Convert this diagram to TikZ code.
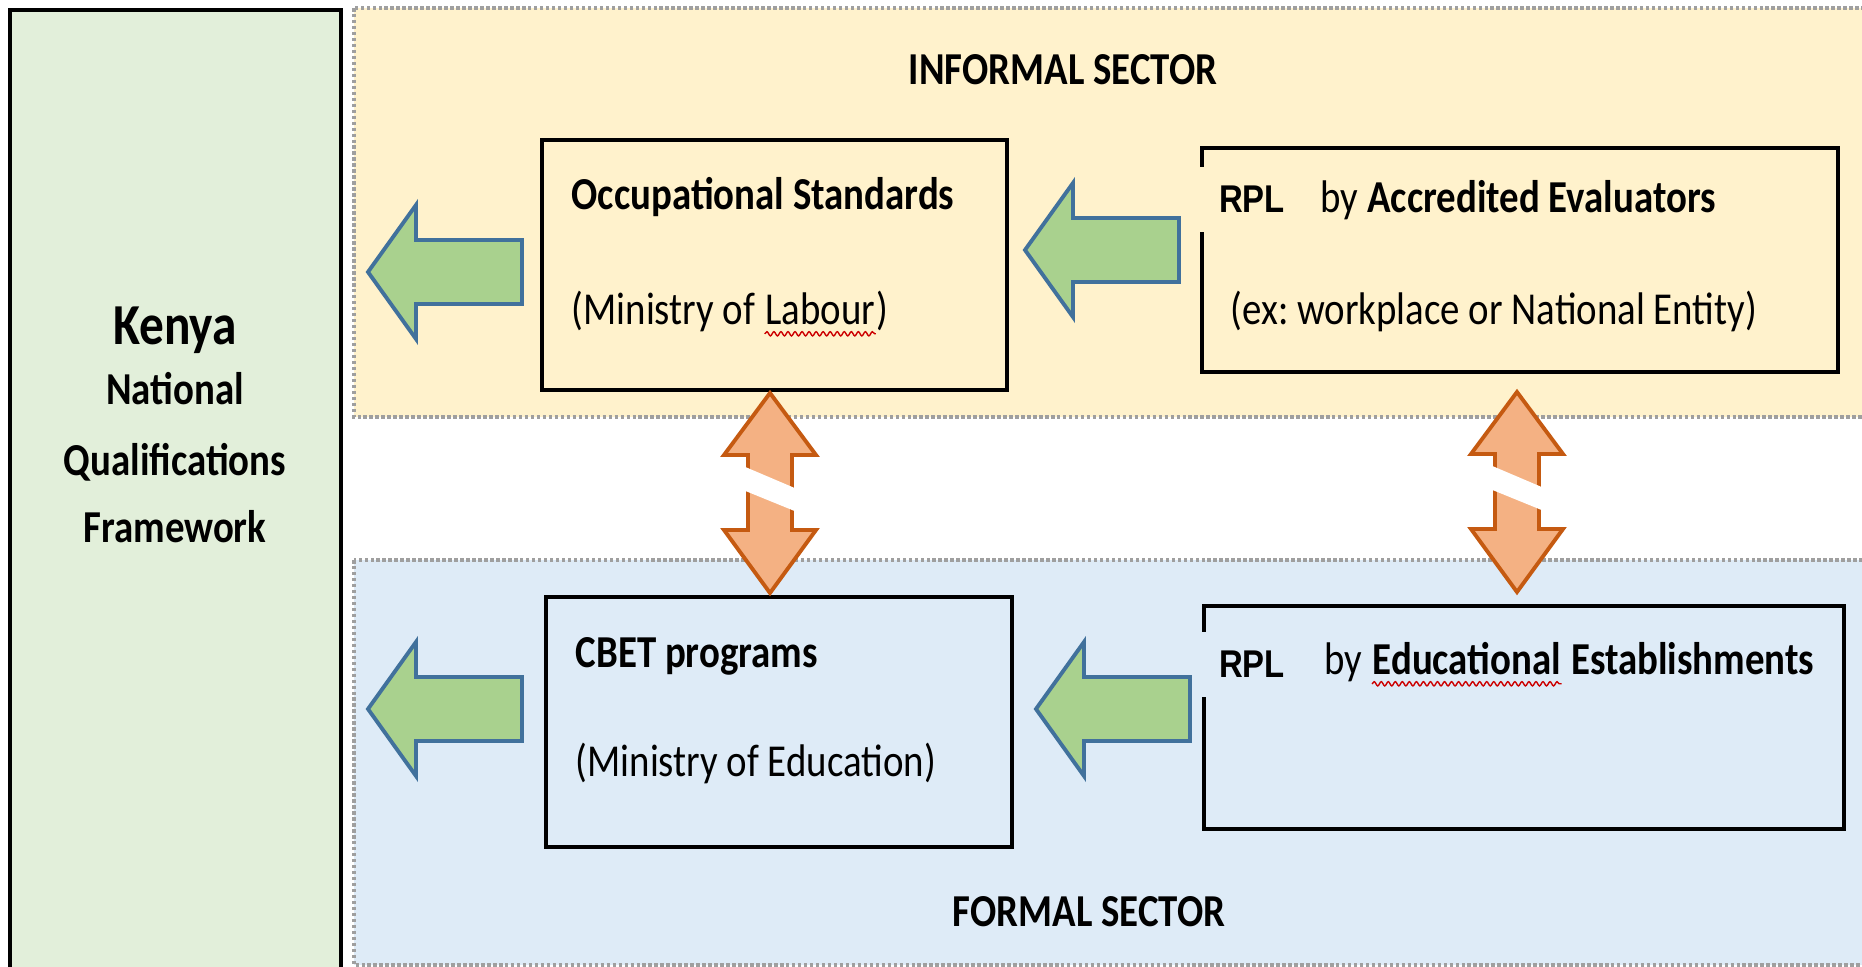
\documentclass[tikz,border=0pt]{standalone}
\usepackage{fontspec}
\setmainfont{Carlito}[FakeStretch=0.85]
\newfontfamily\rplfont{Liberation Sans}[FakeStretch=0.85]
\usetikzlibrary{decorations.pathmorphing}
\frenchspacing
\definecolor{nqfgreen}{HTML}{E2EFDA}
\definecolor{informal}{HTML}{FFF2CC}
\definecolor{formal}{HTML}{DEEBF7}
\definecolor{arrowgreen}{HTML}{A9D18E}
\definecolor{arrowblue}{HTML}{41719C}
\definecolor{arroworange}{HTML}{F4B183}
\definecolor{orangeline}{HTML}{C55A11}
\tikzstyle{box}=[draw,line width=1pt,inner sep=0pt]
\tikzstyle{txt}=[inner sep=0pt,anchor=base west,font=\fontsize{13pt}{15pt}\selectfont]
\tikzstyle{bold}=[inner sep=0pt,anchor=base west,font=\fontsize{13pt}{15pt}\selectfont\bfseries]
\tikzstyle{rpl}=[inner sep=5.5pt,anchor=base west,font=\rplfont\bfseries\fontsize{11pt}{13pt}\selectfont]
\tikzstyle{sector}=[draw=gray!75,line width=1pt,dash pattern=on 1pt off 0.7pt]
\tikzstyle{greenarrow}=[fill=arrowgreen,draw=arrowblue,line width=1.1pt]
\tikzstyle{orangearrow}=[fill=arroworange,draw=orangeline,line width=1.1pt]
\tikzstyle{squiggle}=[red!80!black,line width=0.4pt,decorate,decoration={snake,amplitude=0.6pt,segment length=2pt}]

\begin{document}
\begin{tikzpicture}[x=0.01cm,y=-0.01cm]
\useasboundingbox (0, 0) rectangle (1862, 967);
\clip (0, 0) rectangle (1862, 967);
\fill[white] (0, 0) rectangle (1862, 967);
% sectors
\draw[sector,fill=informal] (354, 8) rectangle (1890, 417);
\draw[sector,fill=formal] (354, 560) rectangle (1890, 965);
\node[bold,anchor=base] at (1063, 85) {INFORMAL SECTOR};
\node[bold,anchor=base] at (1089, 927) {FORMAL SECTOR};
% framework
\node[box,fill=nqfgreen,anchor=north west,minimum width=3.31cm,minimum height=10cm] (nqf) at (8, 8) {};
\node[bold,anchor=base,font=\fontsize{16.5pt}{18pt}\selectfont\bfseries] at (175, 345) {Kenya};
\node[bold,anchor=base] at (175, 405) {National};
\node[bold,anchor=base] at (175, 476) {Qualifications};
\node[bold,anchor=base] at (175, 543) {Framework};
% boxes
\node[box,minimum width=4.65cm,minimum height=2.5cm] (os) at (774.5, 265) {};
\node[box,minimum width=6.36cm,minimum height=2.24cm] (ae) at (1520, 260) {};
\node[box,minimum width=4.66cm,minimum height=2.5cm] (cbet) at (779, 722) {};
\node[box,minimum width=6.40cm,minimum height=2.23cm] (ee) at (1524, 717.5) {};
% informal texts
\node[bold] (osname) at (571, 210) {Occupational Standards};
\node[txt] (osmin) at (571, 325) {(Ministry of};
\node[txt] (oslab) at ([xshift=2.5pt]osmin.base east) {Labour};
\node[txt] at (oslab.base east) {)};
\draw[squiggle] ([yshift=-2.5pt]oslab.base west) -- ([yshift=-2.5pt]oslab.base east);
\node[rpl,fill=informal] (aerpl) at (1199, 213) {RPL};
\node[txt] (aeby) at (1320, 213) {by \textbf{Accredited Evaluators}};
\node[txt] (aeex) at (1230, 325) {(ex: workplace or National Entity)};
% formal texts
\node[bold] (cbetname) at (575, 668) {CBET programs};
\node[txt] (cbetmin) at (575, 777) {(Ministry of Education)};
\node[rpl,fill=formal] (eerpl) at (1199, 678) {RPL};
\node[txt] (eeby) at (1324, 675) {by};
\node[bold] (eeedu) at ([xshift=2.5pt]eeby.base east) {Educational};
\node[bold] at (eeedu.base east) {~Establishments};
\draw[squiggle] ([yshift=-2.5pt]eeedu.base west) -- ([yshift=-2.5pt]eeedu.base east);
% arrows
\foreach \x/\y in {368/272, 1025/250, 368/709, 1036/709}
  \draw[greenarrow,shift={(\x,\y)}] (0, 0) -- (48, -67) -- (48, -32) -- (154, -32) -- (154, 32) -- (48, 32) -- (48, 67) -- cycle;
\foreach \x/\y in {770/393, 1517/392} {
  \draw[orangearrow,shift={(\x,\y)}] (0, 0) -- (46, 62) -- (22, 62) -- (22, 137) -- (46, 137) -- (0, 200) -- (-46, 137) -- (-22, 137) -- (-22, 62) -- (-46, 62) -- cycle;
  \fill[white,shift={(\x,\y)}] (-27, 73) -- (27, 96) -- (27, 119) -- (-27, 97) -- cycle;
}
\end{tikzpicture}
\end{document}
